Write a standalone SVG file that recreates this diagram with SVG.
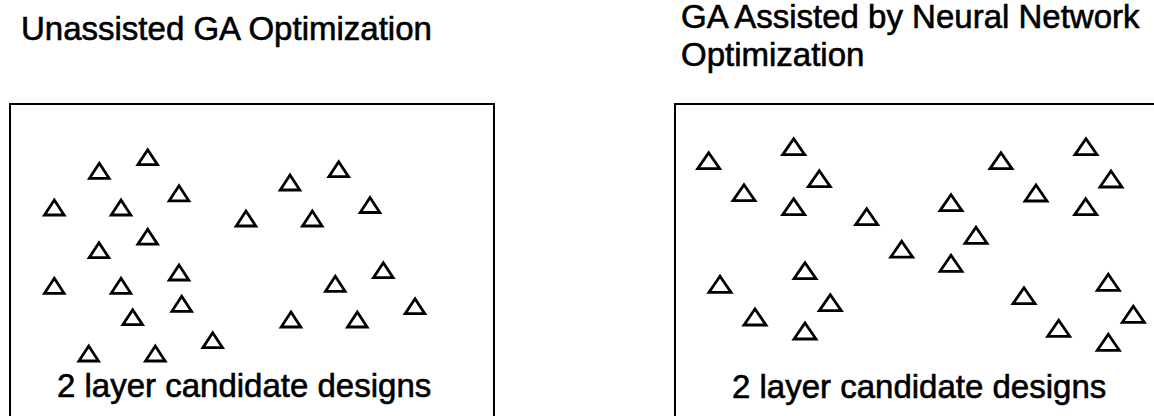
<svg xmlns="http://www.w3.org/2000/svg" xmlns:xlink="http://www.w3.org/1999/xlink" width="1154" height="416" viewBox="0 0 1154 416">
<style>
text{font-family:"Liberation Sans",Arial,sans-serif;font-size:33px;fill:#000;stroke:#000;stroke-width:0.6}
.box{fill:none;stroke:#000;stroke-width:2}
.tri{fill:none;stroke:#000;stroke-width:2.8;stroke-linejoin:miter}
</style>
<defs>
<path id="tL" class="tri" d="M0,-7.5 L9.8,7.5 L-9.8,7.5 Z"/>
<path id="tR" class="tri" d="M0,-8 L11,8 L-11,8 Z"/>
</defs>
<rect width="1154" height="416" fill="#fff"/>
<g id="panel-unassisted">
<text x="21" y="40">Unassisted GA Optimization</text>
<path class="box" d="M10,418 V104 H494 V418"/>
<g id="designs-left">
<use xlink:href="#tL" x="99.3" y="170.8"/>
<use xlink:href="#tL" x="147.7" y="157.2"/>
<use xlink:href="#tL" x="179" y="193.3"/>
<use xlink:href="#tL" x="54.3" y="207.5"/>
<use xlink:href="#tL" x="121" y="207.5"/>
<use xlink:href="#tL" x="147.7" y="236.7"/>
<use xlink:href="#tL" x="99" y="250.2"/>
<use xlink:href="#tL" x="179" y="272.5"/>
<use xlink:href="#tL" x="54.3" y="285.8"/>
<use xlink:href="#tL" x="121" y="285.8"/>
<use xlink:href="#tL" x="181.7" y="303.8"/>
<use xlink:href="#tL" x="132.7" y="317.2"/>
<use xlink:href="#tL" x="212.7" y="340.2"/>
<use xlink:href="#tL" x="88.7" y="353.5"/>
<use xlink:href="#tL" x="155.3" y="353.5"/>
<use xlink:href="#tL" x="290" y="182.5"/>
<use xlink:href="#tL" x="338.7" y="169.2"/>
<use xlink:href="#tL" x="370" y="205"/>
<use xlink:href="#tL" x="246" y="218.5"/>
<use xlink:href="#tL" x="312.3" y="218.5"/>
<use xlink:href="#tL" x="383.3" y="270.2"/>
<use xlink:href="#tL" x="335.3" y="283.8"/>
<use xlink:href="#tL" x="415" y="306.2"/>
<use xlink:href="#tL" x="291" y="319.5"/>
<use xlink:href="#tL" x="357.3" y="319.5"/>
</g>
<text x="57" y="397">2 layer candidate designs</text>
</g>
<g id="panel-assisted">
<text x="681" y="28">GA Assisted by Neural Network</text>
<text x="681" y="66">Optimization</text>
<path class="box" d="M675,418 V104 H1156"/>
<g id="designs-right">
<use xlink:href="#tR" x="708.7" y="160.7"/>
<use xlink:href="#tR" x="793.7" y="146.7"/>
<use xlink:href="#tR" x="819.3" y="178.7"/>
<use xlink:href="#tR" x="744" y="192.7"/>
<use xlink:href="#tR" x="793.7" y="206.7"/>
<use xlink:href="#tR" x="866.7" y="216.7"/>
<use xlink:href="#tR" x="951" y="202.7"/>
<use xlink:href="#tR" x="976" y="235.3"/>
<use xlink:href="#tR" x="901.7" y="249.2"/>
<use xlink:href="#tR" x="951" y="263.3"/>
<use xlink:href="#tR" x="1001" y="160.7"/>
<use xlink:href="#tR" x="1086" y="146.7"/>
<use xlink:href="#tR" x="1111" y="179"/>
<use xlink:href="#tR" x="1036" y="193"/>
<use xlink:href="#tR" x="1085.7" y="206.7"/>
<use xlink:href="#tR" x="720" y="284.3"/>
<use xlink:href="#tR" x="805" y="270.7"/>
<use xlink:href="#tR" x="830.3" y="302.7"/>
<use xlink:href="#tR" x="755" y="317"/>
<use xlink:href="#tR" x="805" y="331"/>
<use xlink:href="#tR" x="1024" y="295.7"/>
<use xlink:href="#tR" x="1108.3" y="282.3"/>
<use xlink:href="#tR" x="1133.3" y="314.3"/>
<use xlink:href="#tR" x="1058.7" y="328.3"/>
<use xlink:href="#tR" x="1108.3" y="342.3"/>
</g>
<text x="732" y="398">2 layer candidate designs</text>
</g>
</svg>
